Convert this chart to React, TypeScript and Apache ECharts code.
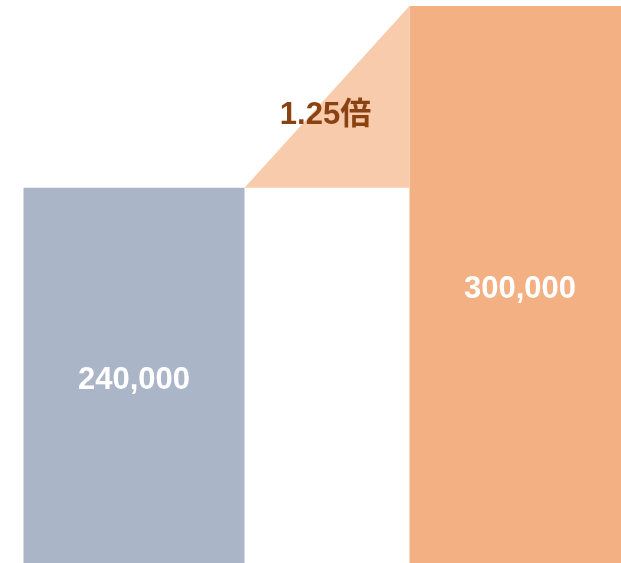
import React, { useEffect, useRef } from "react";
import * as echarts from "echarts";

const categories = ["前", "後"];
const values = [240000, 300000];
const barColors = ["#ABB5C8", "#F3B083"];
const triangleColor = "#F7CBAB";
const ratioColor = "#8A4212";

const BAR_WIDTH = 221;
const FONT = "'Liberation Sans', Arial, 'Noto Sans CJK JP', sans-serif";

export default function App() {
  const ref = useRef<HTMLDivElement>(null);

  useEffect(() => {
    if (!ref.current) return;
    const chart = echarts.init(ref.current, null, { renderer: "svg" });
    const ratio = values[1] / values[0];
    const ratioText = `${ratio.toFixed(2)}倍`;

    chart.setOption({
      animation: false,
      grid: { left: 0, right: 0, top: 6, bottom: 0, containLabel: false },
      xAxis: {
        type: "category",
        data: categories,
        show: false,
      },
      yAxis: {
        type: "value",
        min: 116000,
        max: 300000,
        show: false,
        splitLine: { show: false },
      },
      series: [
        {
          type: "bar",
          barWidth: BAR_WIDTH,
          data: values.map((v, i) => ({ value: v, itemStyle: { color: barColors[i] } })),
          label: {
            show: true,
            position: "inside",
            offset: [0, 3],
            color: "#ffffff",
            fontSize: 31,
            fontWeight: "bold",
            fontFamily: FONT,
            formatter: (p: any) => Number(p.value).toLocaleString("en-US"),
          },
          z: 2,
        },
        {
          type: "custom",
          coordinateSystem: "cartesian2d",
          data: [[0, values[0]]],
          z: 3,
          renderItem: (params: any, api: any) => {
            const p0 = api.coord([0, values[0]]);
            const p1 = api.coord([1, values[1]]);
            const x0 = p0[0] + BAR_WIDTH / 2;
            const x1 = p1[0] - BAR_WIDTH / 2;
            const y0 = p0[1];
            const y1 = p1[1];
            return {
              type: "group",
              children: [
                {
                  type: "polygon",
                  shape: { points: [[x0, y0], [x1, y1], [x1, y0]] },
                  style: { fill: triangleColor },
                },
                {
                  type: "text",
                  x: (x0 + x1) / 2 - 1.5,
                  y: y0 - 0.41 * (y0 - y1),
                  style: {
                    text: ratioText,
                    fill: ratioColor,
                    fontSize: 31,
                    fontWeight: "bold",
                    fontFamily: FONT,
                    align: "center",
                    verticalAlign: "middle",
                  },
                },
              ],
            };
          },
        },
      ],
    });

    return () => chart.dispose();
  }, []);

  return (
    <div
      ref={ref}
      style={{ position: "fixed", left: -59.5, top: 0, width: 772, height: 563 }}
    />
  );
}
